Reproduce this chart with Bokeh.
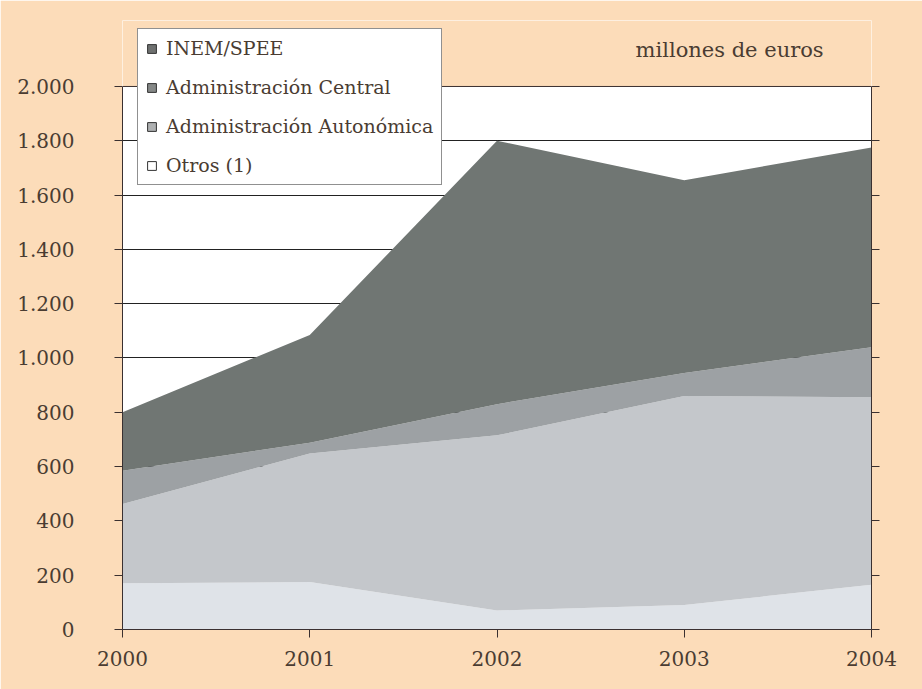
from bokeh.plotting import figure
from bokeh.models import (ColumnDataSource, Range1d, FixedTicker, Legend, LegendItem, Label,
                          BoxAnnotation, Span, LinearAxis)
from bokeh.embed import file_html
from bokeh.resources import INLINE

# ---- data (millones de euros) ----
years = [2000, 2001, 2002, 2003, 2004]
otros = [170, 175, 70, 90, 165]
autonomica = [292, 473, 645, 770, 690]
central = [123, 40, 115, 85, 185]
inem = [215, 397, 970, 710, 735]

series_names = ["INEM/SPEE", "Administración Central", "Administración Autonómica", "Otros (1)"]
y_ticks = [0, 200, 400, 600, 800, 1000, 1200, 1400, 1600, 1800, 2000]
y_tick_labels = ["0", "200", "400", "600", "800", "1.000", "1.200", "1.400", "1.600", "1.800", "2.000"]
x_tick_labels = ["2000", "2001", "2002", "2003", "2004"]
unit_text = "millones de euros"
y_max = 2000
y_top = 2243  # headroom above the plot box for legend and unit text

# ---- styles ----
PEACH = "#fcdcb9"
TEXT = "#4a3c32"
AXIS = "#3a3030"
FONT = "DejaVu Serif"
area_colors = ["#dfe3e8", "#c4c7cb", "#9da1a4", "#707673"]  # otros, autonomica, central, inem
legend_colors = {"INEM/SPEE": "#6f7170", "Administración Central": "#858887",
                 "Administración Autonómica": "#aeb0b1", "Otros (1)": "#ffffff"}

source = ColumnDataSource(dict(year=years, otros=otros, autonomica=autonomica,
                               central=central, inem=inem))

p = figure(width=922, height=689, output_backend="svg", toolbar_location=None,
           x_range=Range1d(years[0], years[-1]), y_range=Range1d(0, y_top),
           min_border_left=122, min_border_right=51, min_border_top=20, min_border_bottom=60,
           background_fill_color="white", border_fill_color=PEACH,
           outline_line_color=None)

p.varea_stack(stackers=["otros", "autonomica", "central", "inem"], x="year",
              color=area_colors, source=source)

# peach headroom above the plot box, and the box's top edge
p.add_layout(BoxAnnotation(bottom=y_max, fill_color=PEACH, fill_alpha=1.0, line_color=None))
p.add_layout(Span(location=y_max, dimension="width", line_color=AXIS, line_width=1))

# right border of the plot box
right_axis = LinearAxis(bounds=(0, y_max), axis_line_color=AXIS, major_tick_line_color=None,
                        minor_tick_line_color=None, major_label_text_font_size="0px",
                        major_label_text_alpha=0)
right_axis.ticker = FixedTicker(ticks=[])
p.add_layout(right_axis, "right")

# dummy renderers for legend squares
nan = float("nan")
legend_items = []
for name in series_names:
    r = p.patch(x=[nan, nan, nan], y=[nan, nan, nan], fill_color=legend_colors[name],
                line_color="#333333", line_width=1)
    legend_items.append(LegendItem(label=name, renderers=[r]))

legend = Legend(items=legend_items, location=(15, 444), padding=8, spacing=17,
                label_height=20, glyph_height=11, glyph_width=11, label_standoff=9,
                label_text_font=FONT, label_text_font_size="19px", label_text_color=TEXT,
                border_line_color="#222222", border_line_width=1,
                background_fill_color="white", background_fill_alpha=1.0, margin=0)
p.add_layout(legend)

# axes
p.xaxis.ticker = FixedTicker(ticks=years)
p.xaxis.major_label_overrides = {y: s for y, s in zip(years, x_tick_labels)}
p.yaxis.ticker = FixedTicker(ticks=y_ticks)
p.yaxis.major_label_overrides = {t: s for t, s in zip(y_ticks, y_tick_labels)}
p.yaxis.bounds = (0, y_max)
for ax in (p.xaxis, p.yaxis):
    ax.axis_line_color = AXIS
    ax.major_tick_line_color = AXIS
    ax.major_tick_out = 8
    ax.major_tick_in = 0
    ax.minor_tick_line_color = None
    ax.major_label_text_font = FONT
    ax.major_label_text_font_size = "20px"
    ax.major_label_text_color = TEXT
p.yaxis.major_label_standoff = 40
p.xaxis.major_label_standoff = 13

p.xgrid.grid_line_color = None
p.ygrid.ticker = FixedTicker(ticks=y_ticks[:-1])
p.ygrid.grid_line_color = "#222222"
p.ygrid.grid_line_width = 1

p.add_layout(Label(x=2002.74, y=2133, text=unit_text, text_font=FONT,
                   text_font_size="21px", text_color=TEXT, text_baseline="alphabetic"))

open("out.html", "w").write(file_html(p, INLINE))
